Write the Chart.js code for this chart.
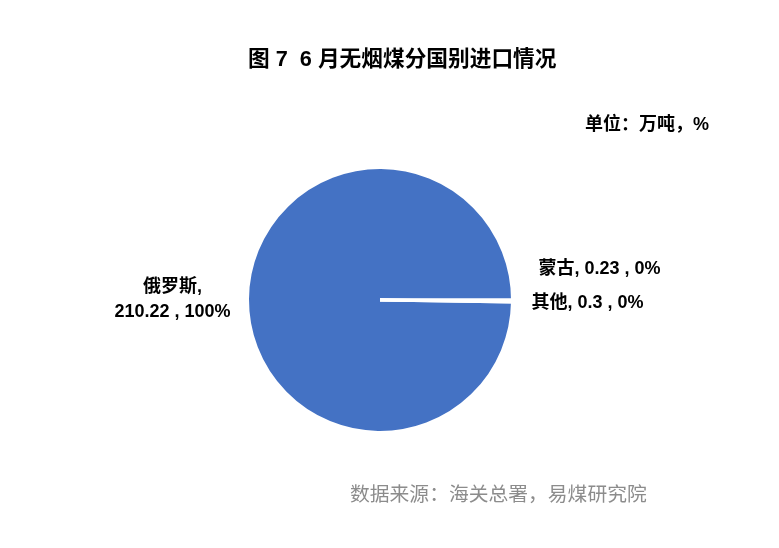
<!DOCTYPE html>
<html>
<head>
<meta charset="utf-8">
<script src="https://cdn.jsdelivr.net/npm/chart.js@4/dist/chart.umd.min.js"></script>
<style>
  html, body { margin: 0; padding: 0; background: #fff; }
  #wrap { position: relative; width: 779px; height: 548px; }
  #pieChart { position: absolute; left: 0; top: 0; }
  .txt { position: absolute; white-space: pre; font-family: "Liberation Sans", "Noto Sans CJK SC", sans-serif; }
  #title { left: 248px; top: 41px; font-size: 21.7px; font-weight: bold; color: #000; }
  #unit { left: 585px; top: 109px; font-size: 18px; font-weight: bold; color: #000; }
  #source { left: 350px; top: 478px; font-size: 19.8px; color: #8c8c8c; font-family: "Noto Sans CJK SC", sans-serif; }
</style>
</head>
<body>
<div id="wrap">
  <canvas id="pieChart" width="779" height="548"></canvas>
  <div class="txt" id="title">图 7  6 月无烟煤分国别进口情况</div>
  <div class="txt" id="unit">单位：万吨，%</div>
  <div class="txt" id="source">数据来源：海关总署，易煤研究院</div>
</div>
<script>
const countries = ['俄罗斯', '蒙古', '其他'];
const imports = [210.22, 0.23, 0.3];
const sliceColors = ['#4472C4', '#ED7D31', '#A5A5A5'];

const total = imports.reduce((a, b) => a + b, 0);

// label placement relative to the outer point of each slice
const labelPlacement = [
  { dx: -75, dy: 1, align: 'center', twoLines: true },
  { dx: 26, dy: -31, align: 'left', twoLines: false },
  { dx: 19, dy: 2, align: 'left', twoLines: false }
];

const sliceLabels = {
  id: 'sliceLabels',
  afterDraw(chart) {
    const ctx = chart.ctx;
    const arcs = chart.getDatasetMeta(0).data;
    ctx.save();
    ctx.fillStyle = '#000';
    ctx.font = 'bold 18px "Liberation Sans", "Noto Sans CJK SC", sans-serif';
    ctx.textBaseline = 'middle';
    arcs.forEach((arc, i) => {
      const mid = (arc.startAngle + arc.endAngle) / 2;
      const x = arc.x + Math.cos(mid) * arc.outerRadius;
      const y = arc.y + Math.sin(mid) * arc.outerRadius;
      const p = labelPlacement[i];
      const pct = Math.round(imports[i] / total * 100) + '%';
      ctx.textAlign = p.align;
      if (p.twoLines) {
        ctx.fillText(countries[i] + ',', x + p.dx, y + p.dy - 13);
        ctx.fillText(imports[i] + ' , ' + pct, x + p.dx, y + p.dy + 12);
      } else {
        ctx.fillText(countries[i] + ', ' + imports[i] + ' , ' + pct, x + p.dx, y + p.dy);
      }
    });
    ctx.restore();
  }
};

new Chart(document.getElementById('pieChart'), {
  type: 'pie',
  data: {
    labels: countries,
    datasets: [{
      data: imports,
      backgroundColor: sliceColors,
      borderColor: '#ffffff',
      borderWidth: 3
    }]
  },
  options: {
    responsive: false,
    animation: false,
    rotation: 90.9,
    layout: { padding: { left: 246, right: 265, top: 166, bottom: 114 } },
    plugins: {
      legend: { display: false },
      tooltip: { enabled: false }
    }
  },
  plugins: [sliceLabels]
});
</script>
</body>
</html>
